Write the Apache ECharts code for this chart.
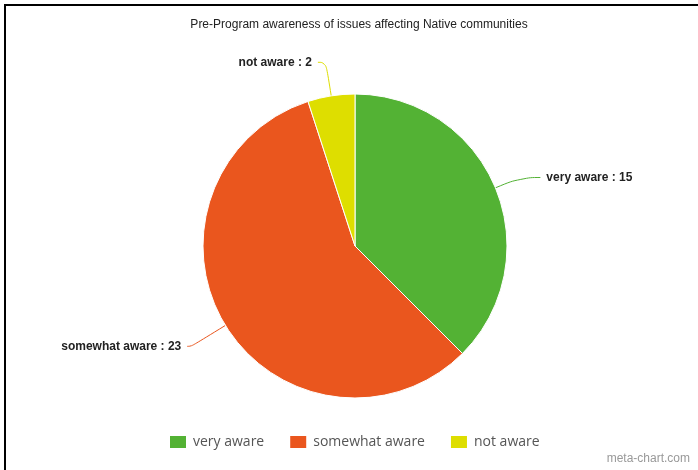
<!DOCTYPE html>
<html>
<head>
<meta charset="utf-8">
<script src="https://cdn.jsdelivr.net/npm/echarts@6/dist/echarts.min.js"></script>
<style>
  html, body { margin: 0; padding: 0; background: #fff; }
  #chart { width: 698px; height: 470px; }
</style>
</head>
<body>
<div id="chart"></div>
<script>
// Survey responses: awareness before the program
const categories = ['very aware', 'somewhat aware', 'not aware'];
const counts = [15, 23, 2];
const colors = ['#53b234', '#ea561e', '#dede00'];
// Leader line lengths per slice: [first segment, horizontal segment]
const leaderLengths = [[27, 20], [40, 4], [34, 8]];

const chart = echarts.init(document.getElementById('chart'));

chart.setOption({
  animation: false,
  backgroundColor: '#ffffff',
  color: colors,
  title: {
    text: 'Pre-Program awareness of issues affecting Native communities',
    left: 354,
    textAlign: 'center',
    top: 14,
    textStyle: {
      fontFamily: 'Liberation Sans, Arial, sans-serif',
      fontSize: 12,
      fontWeight: 'normal',
      color: '#222'
    }
  },
  legend: {
    top: 434,
    left: 168,
    padding: 0,
    itemWidth: 18,
    itemHeight: 14,
    itemGap: 24,
    icon: 'rect',
    textStyle: {
      fontFamily: 'Open Sans, DejaVu Sans, sans-serif',
      fontSize: 14,
      color: '#555',
      padding: [0, 0, 0, 1]
    },
    data: categories
  },
  graphic: [
    {
      type: 'rect',
      shape: { x: 5, y: 5, width: 720, height: 480 },
      style: { fill: 'none', stroke: '#000', lineWidth: 2 },
      silent: true
    },
    {
      type: 'text',
      right: 8,
      bottom: 5,
      style: {
        text: 'meta-chart.com',
        font: '12px Liberation Sans, Arial, sans-serif',
        fill: '#999'
      }
    }
  ],
  series: [
    {
      type: 'pie',
      center: [355, 246],
      radius: 152,
      startAngle: 90,
      clockwise: true,
      avoidLabelOverlap: false,
      itemStyle: { borderColor: '#fff', borderWidth: 1 },
      label: {
        show: true,
        position: 'outside',
        formatter: '{b} : {c}',
        fontFamily: 'Liberation Sans, Arial, sans-serif',
        fontSize: 12,
        fontWeight: 'bold',
        color: '#222',
        distanceToLabelLine: 6
      },
      labelLine: {
        show: true,
        smooth: 0.5,
        lineStyle: { width: 1 }
      },
      data: categories.map((name, i) => ({
        name: name,
        value: counts[i],
        labelLine: { length: leaderLengths[i][0], length2: leaderLengths[i][1] }
      }))
    }
  ]
});
</script>
</body>
</html>
